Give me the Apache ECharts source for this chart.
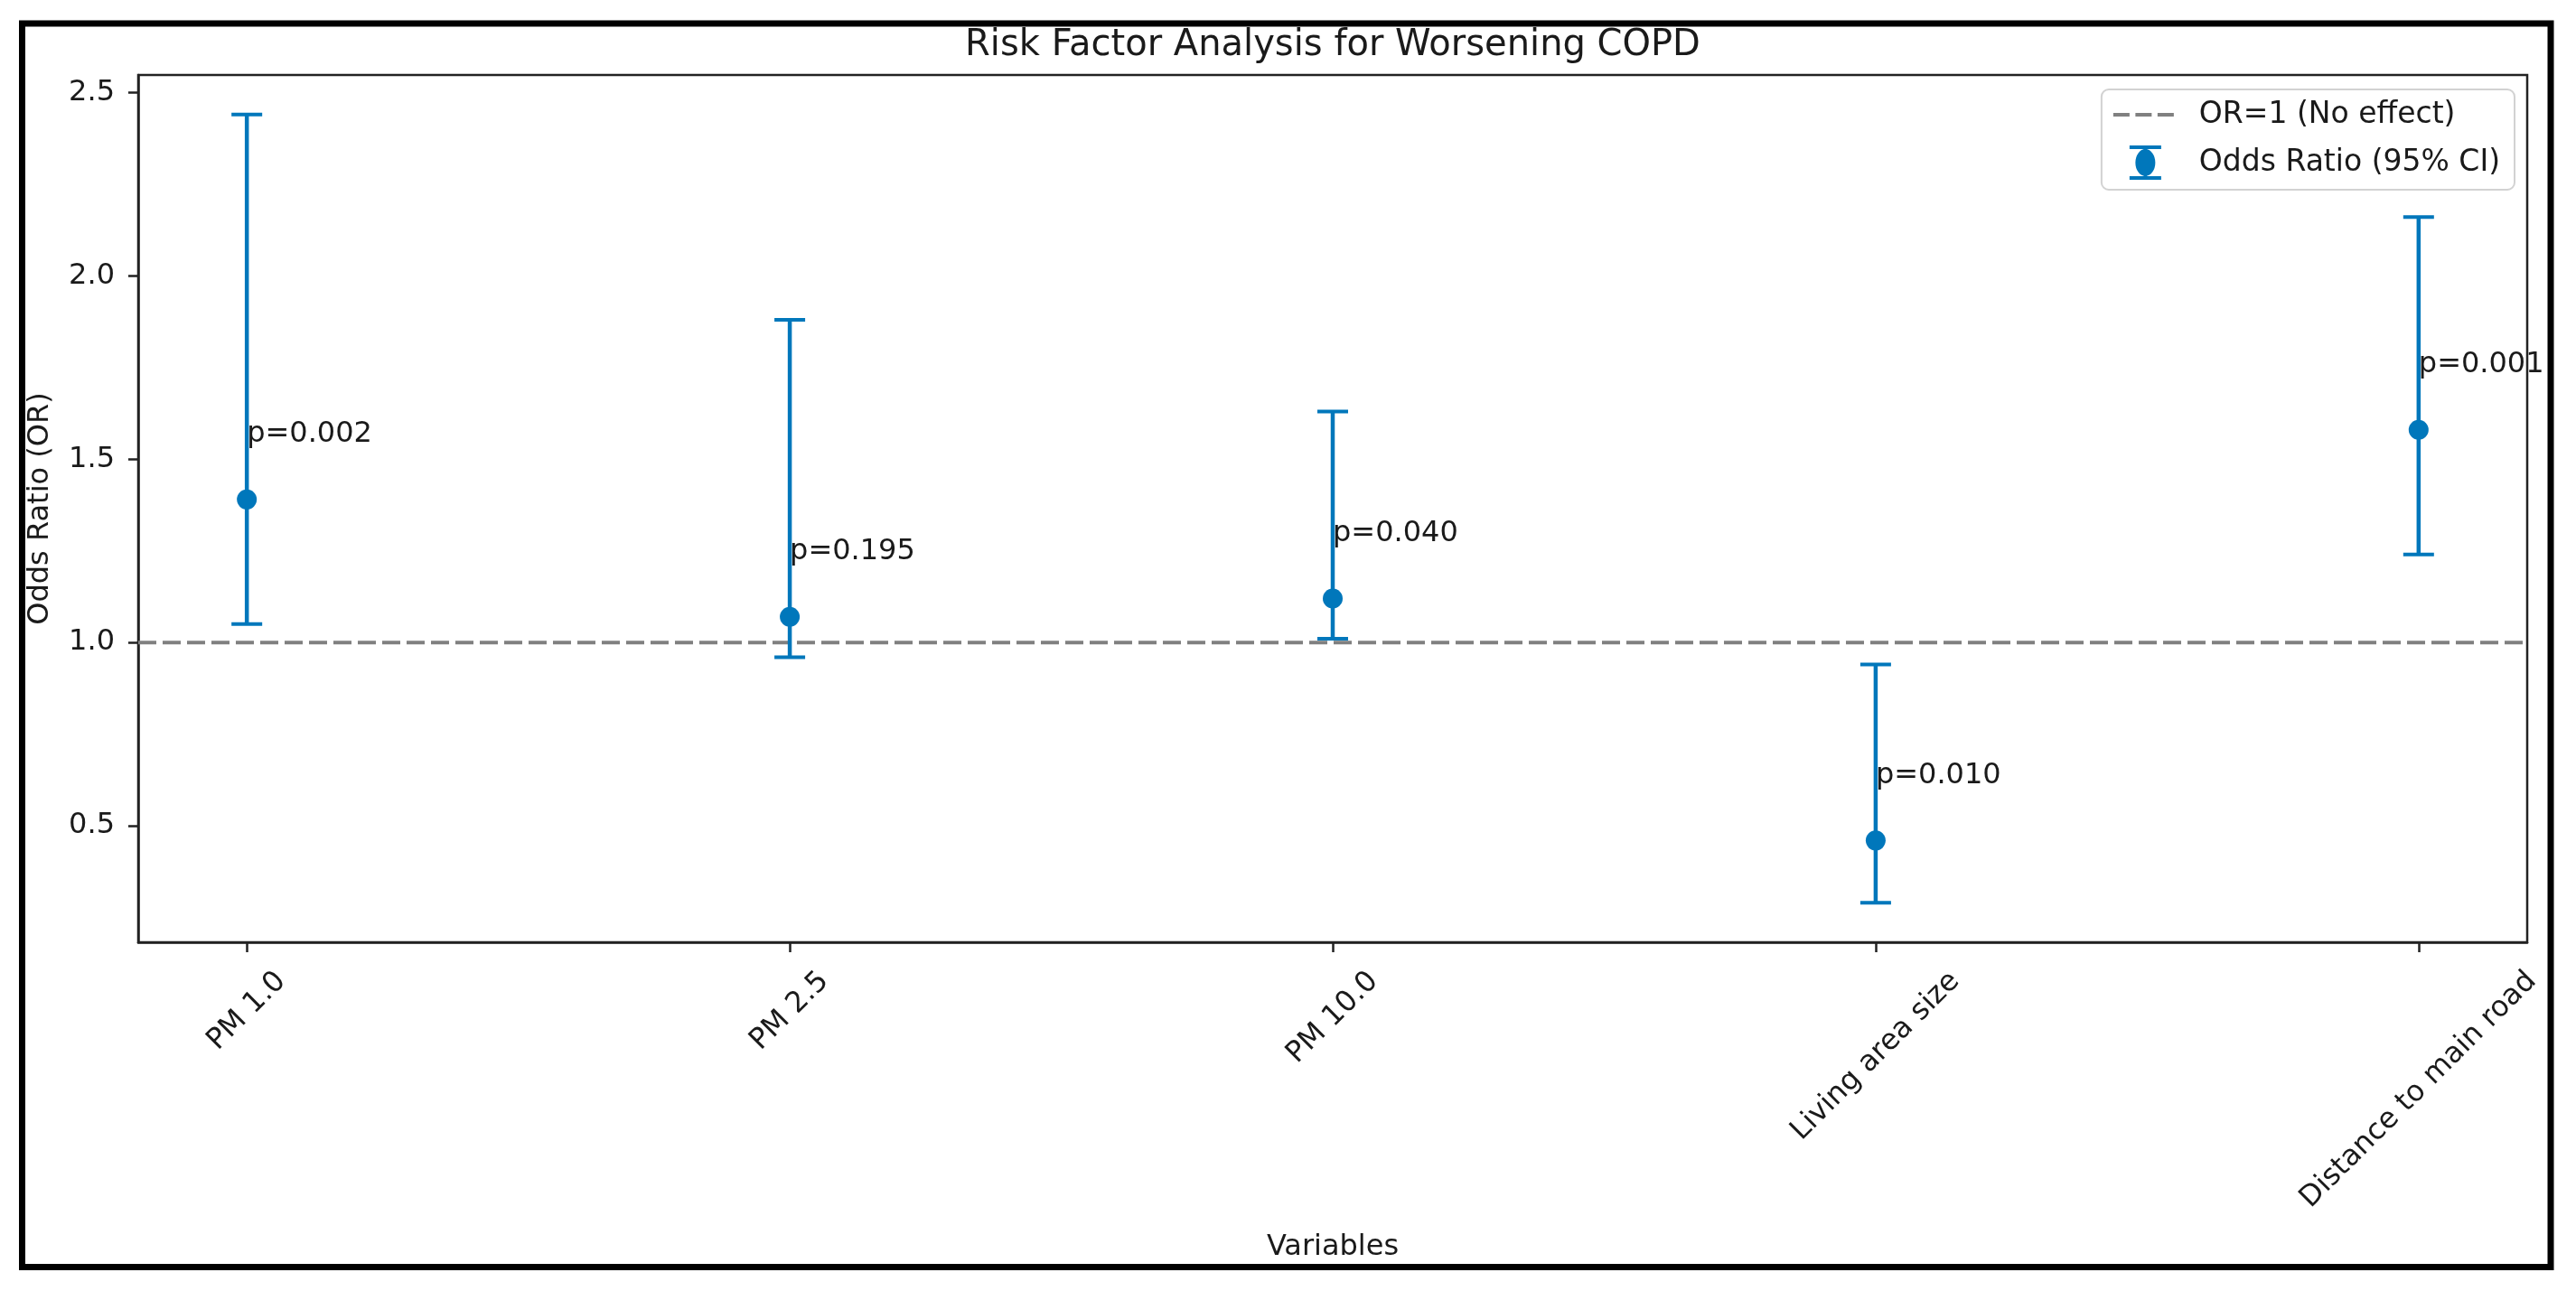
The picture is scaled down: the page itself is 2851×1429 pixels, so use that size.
<!DOCTYPE html>
<html><head><meta charset="utf-8">
<script src="https://cdn.jsdelivr.net/npm/echarts@6/dist/echarts.min.js"></script>
<style>html,body{margin:0;padding:0;background:#fff}#c{width:2851px;height:1429px}</style>
</head><body><div id="c"></div>
<script>
// ---- data ----
const categories = ['PM 1.0', 'PM 2.5', 'PM 10.0', 'Living area size', 'Distance to main road'];
const oddsRatio = [1.39, 1.07, 1.12, 0.46, 1.58];
const ciLower = [1.05, 0.96, 1.01, 0.29, 1.24];
const ciUpper = [2.44, 1.88, 1.63, 0.94, 2.16];
const pValues = [0.002, 0.195, 0.040, 0.010, 0.001];
const yTicks = [0.5, 1.0, 1.5, 2.0, 2.5];
const refValue = 1;
const titleText = 'Risk Factor Analysis for Worsening COPD';
const xName = 'Variables';
const yName = 'Odds Ratio (OR)';
const refName = 'OR=1 (No effect)';
const orName = 'Odds Ratio (95% CI)';

// ---- style constants ----
const FONT = '"DejaVu Sans", "Liberation Sans", sans-serif';
const FS = 32;
const TEXT = '#1a1a1a';
const BLUE = '#0077bb';
const GRAY = '#808080';
const labelOffset = 0.15;

// axis extents (matplotlib-like 5% margins)
const xIdx = categories.map((_, i) => i);
const xPad = 0.05 * (categories.length - 1);
const xMin = -xPad, xMax = categories.length - 1 + xPad;
const lo = Math.min(...ciLower), hi = Math.max(...ciUpper);
const yPad = 0.05 * (hi - lo);
const yMin = lo - yPad, yMax = hi + yPad;

const grid = {left: 153, top: 83, right: 2851 - 2797, bottom: 1429 - 1043};

const orData = categories.map((c, i) => [i, oddsRatio[i], ciLower[i], ciUpper[i]]);
const pData = categories.map((c, i) => [i, oddsRatio[i] + labelOffset, pValues[i]]);

const chart = echarts.init(document.getElementById('c'), null, {renderer: 'canvas'});

const dashIcon = 'path://M0 0h0.1v0.1h-0.1Z M89.9 37.9h0.1v0.1h-0.1Z M0 17h18v4h-18Z M24.5 17h18v4h-18Z M49 17h18v4h-18Z';
const ebIcon = 'path://M0 0h0.1v0.1h-0.1Z M89.9 37.9h0.1v0.1h-0.1Z M18 0h35v4h-35Z M18 34h35v4h-35Z M33.5 3h4v32h-4Z M24.5 19A11 15 0 1 1 46.5 19A11 15 0 1 1 24.5 19Z';

const option = {
  backgroundColor: '#fff',
  animation: false,
  textStyle: {fontFamily: FONT},
  grid: Object.assign({show: true, borderColor: '#222', borderWidth: 2.5, backgroundColor: 'transparent', outerBoundsMode: 'none'}, grid),
  legend: {
    orient: 'vertical', right: 68, top: 99, align: 'left',
    padding: [9, 16, 11, 13], itemGap: 15, itemWidth: 90, itemHeight: 38,
    backgroundColor: 'rgba(255,255,255,0.85)', borderColor: '#d2d2d2', borderWidth: 2, borderRadius: 8,
    textStyle: {fontSize: 33, color: TEXT, fontFamily: FONT},
    selectedMode: false,
    data: [
      {name: refName, icon: dashIcon, itemStyle: {color: GRAY, borderWidth: 0}},
      {name: orName, icon: ebIcon, itemStyle: {color: BLUE, borderWidth: 0}}
    ]
  },
  xAxis: {
    type: 'value', min: xMin, max: xMax,
    name: xName, nameLocation: 'middle', nameGap: 322,
    nameTextStyle: {fontSize: FS, color: TEXT, fontFamily: FONT},
    splitLine: {show: false},
    axisLine: {show: true, onZero: false, lineStyle: {color: '#222', width: 2.5}},
    axisTick: {show: true, length: 11, inside: false, customValues: xIdx, lineStyle: {color: '#222', width: 2.5}},
    axisLabel: {show: false, customValues: xIdx}
  },
  yAxis: {
    type: 'value', min: yMin, max: yMax,
    name: yName, nameLocation: 'middle', nameGap: 92,
    nameTextStyle: {fontSize: FS, color: TEXT, fontFamily: FONT},
    splitLine: {show: false},
    axisLine: {show: true, onZero: false, lineStyle: {color: '#222', width: 2.5}},
    axisTick: {show: true, length: 11, inside: false, customValues: yTicks, lineStyle: {color: '#222', width: 2.5}},
    axisLabel: {show: true, customValues: yTicks, margin: 26, fontSize: FS, color: TEXT, fontFamily: FONT,
      formatter: v => v.toFixed(1)}
  },
  series: [
    {
      name: refName, type: 'line', data: [[xMin, refValue], [xMax, refValue]],
      symbol: 'none', silent: true, z: 2,
      lineStyle: {color: GRAY, width: 4, type: [20, 7]}, itemStyle: {color: GRAY}
    },
    {
      name: orName, type: 'custom', data: orData, z: 3, silent: true,
      encode: {x: 0, y: [1, 2, 3]},
      itemStyle: {color: BLUE},
      renderItem: function (params, api) {
        const x = api.value(0);
        const p = api.coord([x, api.value(1)]);
        const l = api.coord([x, api.value(2)]);
        const h = api.coord([x, api.value(3)]);
        const cap = 17;
        return {type: 'group', children: [
          {type: 'line', shape: {x1: l[0], y1: l[1], x2: h[0], y2: h[1]}, style: {stroke: BLUE, lineWidth: 4.5}},
          {type: 'line', shape: {x1: h[0] - cap, y1: h[1], x2: h[0] + cap, y2: h[1]}, style: {stroke: BLUE, lineWidth: 4}},
          {type: 'line', shape: {x1: l[0] - cap, y1: l[1], x2: l[0] + cap, y2: l[1]}, style: {stroke: BLUE, lineWidth: 4}},
          {type: 'circle', shape: {cx: p[0], cy: p[1], r: 11}, style: {fill: BLUE}}
        ]};
      }
    },
    {
      name: 'pLabels', type: 'custom', data: pData, z: 4, silent: true, clip: false,
      encode: {x: 0, y: 1},
      renderItem: function (params, api) {
        const pt = api.coord([api.value(0), api.value(1)]);
        return {type: 'text', x: pt[0], y: pt[1] + 5, style: {
          text: 'p=' + api.value(2).toFixed(3), fontSize: FS, fontFamily: FONT, fill: TEXT,
          align: 'left', verticalAlign: 'bottom'}};
      }
    }
  ]
};
chart.setOption(option);

// ---- rotated category labels (matplotlib rotation=45, bbox centered on tick) ----
const cv = document.createElement('canvas').getContext('2d');
cv.font = FS + 'px ' + FONT;
const axisBottom = chart.convertToPixel({yAxisIndex: 0}, yMin);
const plotCx = (chart.convertToPixel({xAxisIndex: 0}, xMin) + chart.convertToPixel({xAxisIndex: 0}, xMax)) / 2;
const graphics = [];
categories.forEach((c, i) => {
  const tx = chart.convertToPixel({xAxisIndex: 0}, i);
  const L = cv.measureText(c).width;
  const bb = (L + 1.16 * FS) * Math.SQRT1_2;
  graphics.push({type: 'text', x: tx, y: axisBottom + 25 + bb / 2, rotation: Math.PI / 4, silent: true,
    style: {text: c, fontSize: FS, fontFamily: FONT, fill: TEXT, align: 'center', verticalAlign: 'middle'}});
});
graphics.push({type: 'text', x: plotCx, y: 31, silent: true,
  style: {text: titleText, fontSize: 40, fontFamily: FONT, fill: TEXT, align: 'center', verticalAlign: 'top'}});
graphics.push({type: 'rect', silent: true, z: 100, shape: {x: 24.5, y: 26, width: 2798.5, height: 1376.5},
  style: {fill: 'none', stroke: '#000', lineWidth: 7}});
chart.setOption({graphic: graphics});
</script></body></html>
